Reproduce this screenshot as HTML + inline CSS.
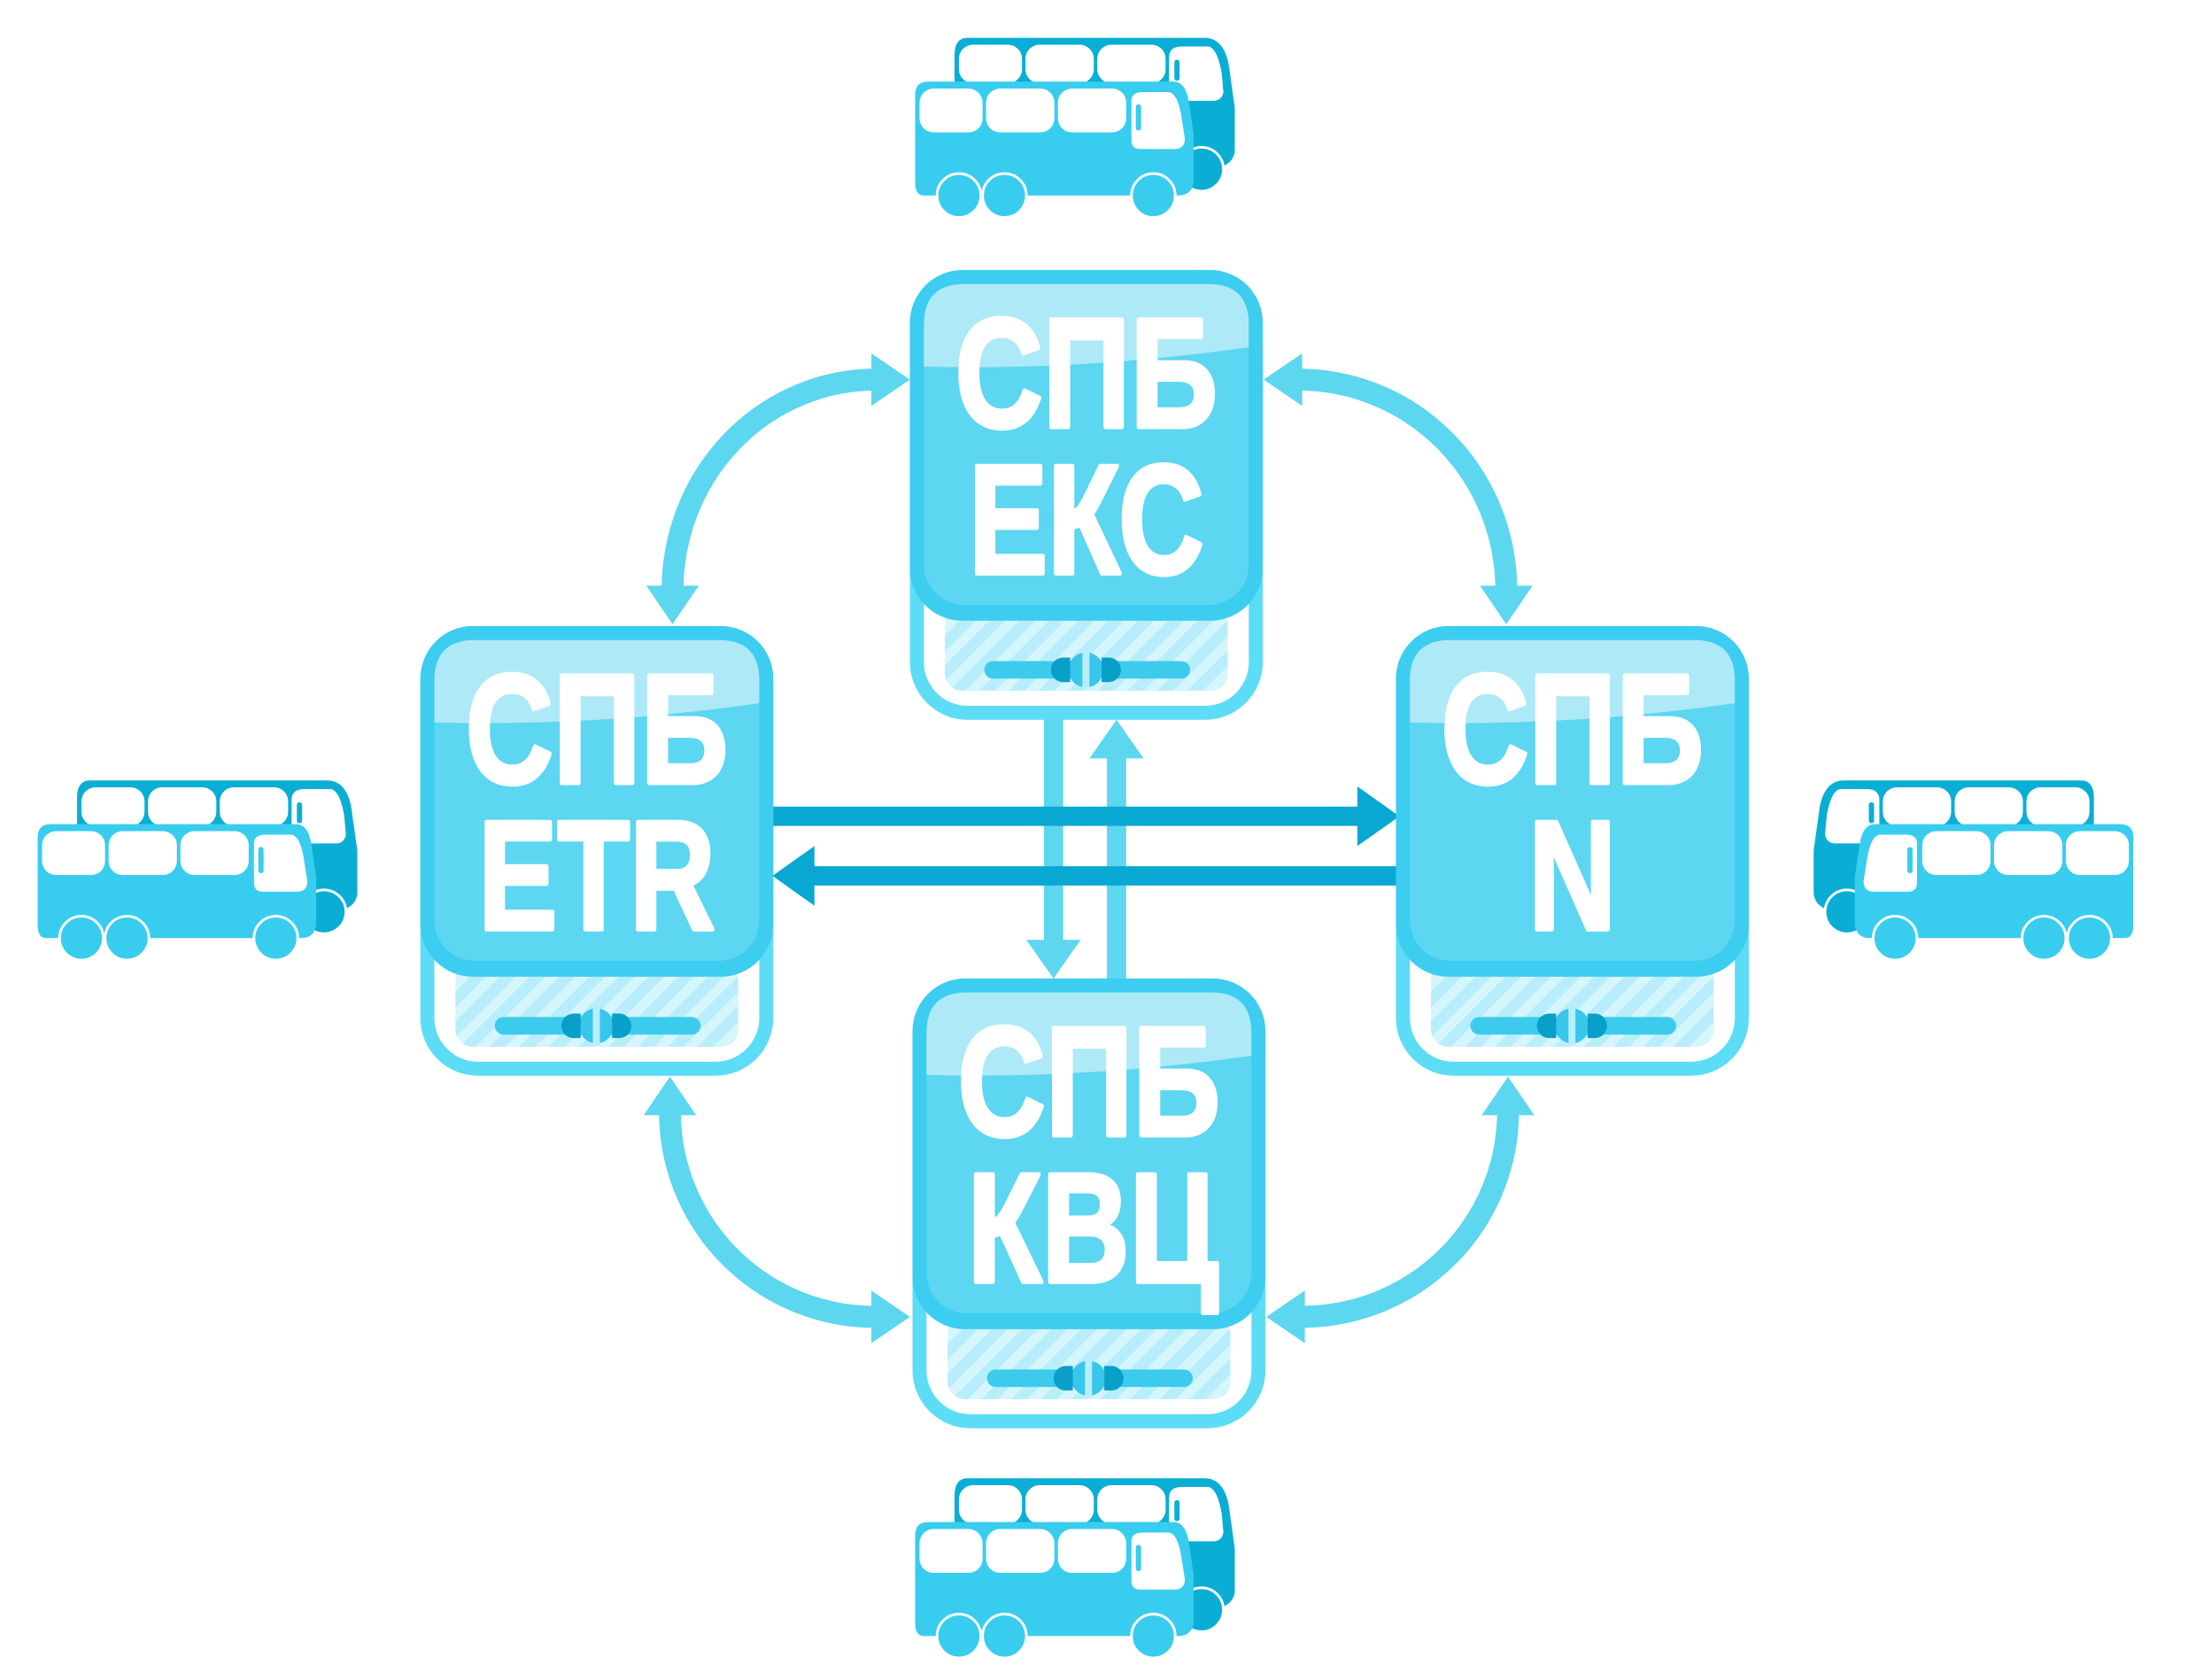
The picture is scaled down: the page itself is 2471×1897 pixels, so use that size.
<!DOCTYPE html>
<html><head><meta charset="utf-8"><style>
html,body{margin:0;padding:0;background:#fff;}
svg{display:block;}
text{font-family:"Liberation Sans","DejaVu Sans",sans-serif;font-weight:bold;fill:#fff;stroke:#fff;stroke-width:5;stroke-linejoin:round;}
</style></head><body>
<svg width="2471" height="1897" viewBox="0 0 2471 1897" xmlns="http://www.w3.org/2000/svg">
<defs>
<pattern id="hatch" width="24" height="24" patternUnits="userSpaceOnUse" patternTransform="rotate(45)">
<rect width="24" height="24" fill="#b8eefb"/><rect width="11" height="24" fill="#d6f6fd"/>
</pattern>
<symbol id="bus" viewBox="0 0 370 205" width="370" height="205">
<path d="M60,0 H330 Q352,0 358,30 L365,80 V130 Q362,150 330,150 H45 V20 Q45,0 60,0Z" fill="#0aaed4"/>
<circle cx="327" cy="150" r="25" fill="#0aaed4" stroke="#fff" stroke-width="3"/>
<rect x="50" y="8" width="72" height="44" rx="16" fill="#fff"/>
<rect x="126" y="8" width="78" height="44" rx="16" fill="#fff"/>
<rect x="208" y="8" width="78" height="44" rx="16" fill="#fff"/>
<path d="M290,22 Q290,10 305,10 H335 Q345,12 350,40 L352,62 Q350,72 340,72 H300 Q290,72 290,62Z" fill="#fff"/>
<rect x="296" y="25" width="6" height="24" rx="3" fill="#0aaed4"/>
<path d="M15,50 H295 Q308,50 312,70 L318,110 V165 Q316,180 300,180 H10 Q0,180 0,165 V65 Q0,50 15,50Z" fill="#38cdee"/>
<rect x="5" y="58" width="72" height="50" rx="16" fill="#fff"/>
<rect x="81" y="58" width="78" height="50" rx="16" fill="#fff"/>
<rect x="163" y="58" width="78" height="50" rx="16" fill="#fff"/>
<path d="M247,72 Q247,62 260,62 H290 Q300,64 304,90 L308,115 Q308,127 296,127 H257 Q247,127 247,117Z" fill="#fff"/>
<rect x="252" y="76" width="6" height="30" rx="3" fill="#38cdee"/>
<circle cx="50" cy="180" r="25" fill="#38cdee" stroke="#fff" stroke-width="3"/>
<circle cx="102" cy="180" r="25" fill="#38cdee" stroke="#fff" stroke-width="3"/>
<circle cx="272" cy="180" r="25" fill="#38cdee" stroke="#fff" stroke-width="3"/>
</symbol>
<g id="boxbase">
<rect x="8" y="8" width="387" height="497" rx="58" fill="#fff" stroke="#5ddcf6" stroke-width="16"/>
<rect x="40" y="385" width="323" height="95" rx="20" fill="url(#hatch)"/>
<rect x="85" y="446" width="235" height="20" rx="10" fill="#3ccbec"/>
<circle cx="201" cy="456" r="20" fill="#38c6ea"/>
<rect x="197" y="434" width="8" height="44" fill="#b8eefb"/>
<path d="M175,442 h8 v28 h-8 a14,14 0 0 1 0,-28z" fill="#0a9fc8"/>
<path d="M219,442 h8 a14,14 0 0 1 0,28 h-8z" fill="#0a9fc8"/>
<rect x="0" y="0" width="403" height="400" rx="60" fill="#3ccdf0"/>
<rect x="16" y="16" width="371" height="366" rx="46" fill="#5cd6f1"/>
<path d="M16,62 Q16,16 62,16 H341 Q387,16 387,62 V88 Q200,115 16,110Z" fill="#aee9f8"/>
</g>
</defs>
<g transform="scale(0.989,0.99)">
<!-- buses -->
<use href="#bus" x="1045" y="43"/>
<use href="#bus" x="1045" y="1686"/>
<use href="#bus" x="43" y="890"/>
<use href="#bus" transform="translate(2436,890) scale(-1,1)"/>

<!-- curved arrows -->
<g fill="none" stroke="#5dd6f0" stroke-width="25">
<path d="M1000,433 A232 240 0 0 0 768 672"/>
<path d="M1483,433 A237 240 0 0 1 1720 672"/>
<path d="M765,1268 A234 234 0 0 0 999 1502"/>
<path d="M1722,1268 A236 234 0 0 1 1486 1502"/>
</g>
<g fill="#5dd6f0">
<polygon points="1039,433 995,403 995,463"/>
<polygon points="768,712 738,668 798,668"/>
<polygon points="1443,433 1487,403 1487,463"/>
<polygon points="1720,712 1690,668 1750,668"/>
<polygon points="765,1228 735,1272 795,1272"/>
<polygon points="1039,1502 995,1472 995,1532"/>
<polygon points="1722,1228 1692,1272 1752,1272"/>
<polygon points="1446,1502 1490,1472 1490,1532"/>
</g>

<!-- vertical arrows -->
<g fill="#5dd6f0">
<rect x="1192" y="815" width="22" height="260"/>
<polygon points="1203,1116 1172,1072 1234,1072"/>
<rect x="1264" y="862" width="22" height="258"/>
<polygon points="1275,821 1244,865 1306,865"/>
</g>
<!-- horizontal arrows -->
<g fill="#09a8d2">
<rect x="880" y="920" width="675" height="22"/>
<polygon points="1598,931 1550,897 1550,965"/>
<rect x="925" y="988" width="675" height="22"/>
<polygon points="882,999 930,965 930,1033"/>
</g>

<!-- boxes -->
<g transform="translate(1039,308)"><use href="#boxbase"/>
<text transform="translate(201.5,179) scale(0.78,1)" font-size="178" text-anchor="middle">СПБ</text>
<text transform="translate(201.5,346) scale(0.76,1)" font-size="178" text-anchor="middle">ЕКС</text></g>
<g transform="translate(480,714)"><use href="#boxbase"/>
<text transform="translate(201.5,179) scale(0.78,1)" font-size="178" text-anchor="middle">СПБ</text>
<text transform="translate(201.5,346) scale(0.76,1)" font-size="178" text-anchor="middle">ETR</text></g>
<g transform="translate(1594,714)"><use href="#boxbase"/>
<text transform="translate(201.5,179) scale(0.78,1)" font-size="178" text-anchor="middle">СПБ</text>
<text transform="translate(201.5,346) scale(0.78,1)" font-size="178" text-anchor="middle">N</text></g>
<g transform="translate(1042,1116)"><use href="#boxbase"/>
<text transform="translate(201.5,179) scale(0.78,1)" font-size="178" text-anchor="middle">СПБ</text>
<text transform="translate(206,346) scale(0.78,1)" font-size="178" text-anchor="middle">КВЦ</text></g>
</g>
</svg>
</body></html>
